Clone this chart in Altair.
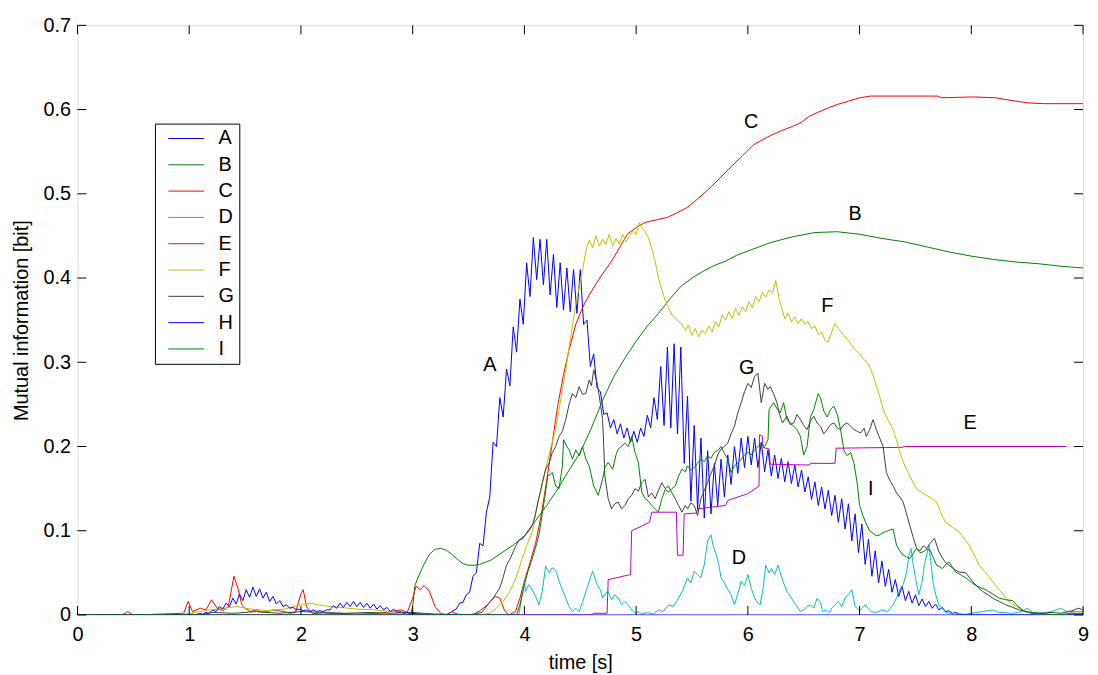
import altair as alt
import pandas as pd

SERIES = ["A", "B", "C", "D", "E", "F", "G", "H", "I"]
COLORS = ["#0000ff", "#008000", "#ff0000", "#00bfbf", "#bf00bf",
          "#bfbf00", "#404040", "#0000ff", "#008000"]
PAD = "\u2002\u2002"  # trailing blank room inside the legend box

X_TICKS = [0, 1, 2, 3, 4, 5, 6, 7, 8, 9]
Y_TICKS = [0, 0.1, 0.2, 0.3, 0.4, 0.5, 0.6, 0.7]

# A: sampled every 0.03 s from 3.30 s
A_T0, A_DT = 3.30, 0.03
A_V = [0.000, 0.002, 0.005, 0.007, 0.014, 0.015, 0.024, 0.027, 0.046, 0.050,
       0.085, 0.082, 0.122, 0.140, 0.205, 0.200, 0.258, 0.235, 0.292, 0.272,
       0.342, 0.312, 0.375, 0.345, 0.418, 0.378, 0.448, 0.398, 0.446, 0.392,
       0.446, 0.380, 0.428, 0.365, 0.418, 0.362, 0.412, 0.360, 0.410, 0.358,
       0.410, 0.345, 0.350, 0.295, 0.310, 0.270, 0.265, 0.238, 0.240, 0.222,
       0.232, 0.215, 0.227, 0.210, 0.222, 0.205, 0.218, 0.205, 0.222, 0.212,
       0.237, 0.222, 0.258, 0.232, 0.295, 0.225, 0.318, 0.222, 0.322, 0.215,
       0.318, 0.180, 0.260, 0.135, 0.225, 0.125, 0.210, 0.115, 0.195, 0.120,
       0.180, 0.130, 0.185, 0.140, 0.190, 0.155, 0.200, 0.168, 0.210, 0.175,
       0.212, 0.178, 0.210, 0.175, 0.205, 0.170, 0.196, 0.165, 0.190, 0.162,
       0.186, 0.158, 0.182, 0.156, 0.178, 0.152, 0.172, 0.146, 0.164, 0.137,
       0.158, 0.130, 0.152, 0.126, 0.148, 0.118, 0.142, 0.110, 0.138, 0.102,
       0.132, 0.088, 0.120, 0.074, 0.108, 0.060, 0.090, 0.046, 0.076, 0.038,
       0.064, 0.034, 0.054, 0.027, 0.042, 0.022, 0.034, 0.017, 0.028, 0.014,
       0.024, 0.011, 0.019, 0.010, 0.016, 0.008, 0.013, 0.006, 0.009, 0.004,
       0.005, 0.002, 0.003, 0.001, 0.001, 0.000, 0.000]

# H: sampled every 0.03 s from 1.00 s
H_T0, H_DT = 1.00, 0.03
H_V = [0.000, 0.001, 0.000, 0.002, 0.001, 0.003, 0.002, 0.006, 0.004, 0.010,
       0.007, 0.014, 0.010, 0.020, 0.013, 0.025, 0.017, 0.030, 0.021, 0.033,
       0.022, 0.031, 0.020, 0.027, 0.016, 0.022, 0.013, 0.017, 0.010, 0.012,
       0.008, 0.009, 0.006, 0.007, 0.005, 0.006, 0.004, 0.006, 0.004, 0.005,
       0.004, 0.006, 0.006, 0.011, 0.008, 0.014, 0.009, 0.015, 0.010, 0.016,
       0.010, 0.015, 0.009, 0.014, 0.008, 0.013, 0.007, 0.011, 0.006, 0.009,
       0.004, 0.007, 0.003, 0.004, 0.002, 0.003, 0.001, 0.002, 0.001, 0.001,
       0.000]

B_PTS = [(0, 0), (2.98, 0), (3.0, 0.01), (3.02, 0.035), (3.05, 0.045), (3.1, 0.06),
         (3.15, 0.072), (3.2, 0.078), (3.25, 0.079), (3.3, 0.077), (3.35, 0.072),
         (3.4, 0.066), (3.45, 0.061), (3.5, 0.059), (3.55, 0.059), (3.6, 0.06),
         (3.7, 0.065), (3.8, 0.074), (3.9, 0.083), (4.0, 0.094), (4.1, 0.112),
         (4.2, 0.13), (4.3, 0.15), (4.4, 0.172), (4.5, 0.193), (4.6, 0.222),
         (4.7, 0.255), (4.8, 0.283), (4.9, 0.305), (5.0, 0.325), (5.1, 0.343),
         (5.2, 0.358), (5.3, 0.375), (5.4, 0.39), (5.5, 0.4), (5.6, 0.408),
         (5.7, 0.415), (5.8, 0.42), (5.9, 0.427), (6.0, 0.432), (6.2, 0.442),
         (6.4, 0.449), (6.6, 0.454), (6.8, 0.455), (7.0, 0.452), (7.2, 0.447),
         (7.4, 0.443), (7.6, 0.437), (7.8, 0.431), (8.0, 0.426), (8.2, 0.422),
         (8.4, 0.419), (8.6, 0.417), (8.8, 0.414), (9.0, 0.412)]

C_PTS = [(0, 0), (0.4, 0), (0.45, 0.004), (0.5, 0), (0.95, 0.002), (0.99, 0.016),
         (1.03, 0.004), (1.1, 0.008), (1.15, 0.006), (1.2, 0.018), (1.25, 0.008),
         (1.3, 0.005), (1.35, 0.01), (1.4, 0.046), (1.44, 0.03), (1.47, 0.012),
         (1.5, 0.008), (1.55, 0.004), (1.6, 0.006), (1.65, 0.003), (1.7, 0.004),
         (1.75, 0.006), (1.8, 0.005), (1.85, 0.004), (1.9, 0.002), (1.95, 0.003),
         (2.0, 0.025), (2.02, 0.03), (2.05, 0.01), (2.1, 0.002), (2.2, 0.001),
         (2.3, 0.002), (2.5, 0.001), (2.7, 0.002), (2.8, 0.004), (2.9, 0.006),
         (2.95, 0.003), (3.0, 0.02), (3.03, 0.034), (3.07, 0.03), (3.1, 0.035),
         (3.15, 0.028), (3.2, 0.01), (3.25, 0.002), (3.3, 0.0), (3.35, 0.004),
         (3.4, 0.001), (3.5, 0), (3.62, 0.003), (3.68, 0.014), (3.74, 0.022),
         (3.78, 0.02), (3.82, 0.006), (3.86, 0), (3.92, 0.004), (3.96, 0.02),
         (4.0, 0.04), (4.05, 0.062), (4.1, 0.085), (4.15, 0.118), (4.2, 0.16),
         (4.25, 0.205), (4.3, 0.25), (4.35, 0.285), (4.4, 0.315), (4.46, 0.345),
         (4.52, 0.365), (4.58, 0.38), (4.64, 0.393), (4.7, 0.405), (4.78, 0.42),
         (4.86, 0.438), (4.92, 0.452), (5.0, 0.46), (5.08, 0.466), (5.18, 0.469),
         (5.28, 0.472), (5.36, 0.477), (5.46, 0.484), (5.56, 0.495), (5.67, 0.508),
         (5.76, 0.52), (5.85, 0.532), (5.95, 0.545), (6.05, 0.558), (6.1, 0.562),
         (6.2, 0.569), (6.3, 0.575), (6.4, 0.58), (6.48, 0.585), (6.55, 0.592),
         (6.63, 0.597), (6.72, 0.602), (6.8, 0.606), (6.9, 0.61), (7.0, 0.614),
         (7.1, 0.616), (7.7, 0.616), (7.73, 0.614), (8.02, 0.615), (8.22, 0.614),
         (8.3, 0.612), (8.4, 0.61), (8.5, 0.608), (8.65, 0.607), (9.0, 0.607)]

D_PTS = [(0, 0), (3.95, 0), (4.0, 0.04), (4.01, 0.028), (4.04, 0.036), (4.07, 0.03),
         (4.1, 0.022), (4.13, 0.012), (4.16, 0.028), (4.19, 0.058), (4.22, 0.05),
         (4.25, 0.056), (4.28, 0.053), (4.31, 0.04), (4.34, 0.03), (4.37, 0.02),
         (4.4, 0.01), (4.43, 0.004), (4.46, 0.008), (4.49, 0.004), (4.52, 0.015),
         (4.55, 0.028), (4.58, 0.04), (4.61, 0.052), (4.63, 0.045), (4.65, 0.036),
         (4.68, 0.03), (4.7, 0.02), (4.72, 0.025), (4.75, 0.028), (4.78, 0.018),
         (4.81, 0.024), (4.84, 0.02), (4.87, 0.012), (4.9, 0.016), (4.93, 0.012),
         (4.96, 0.006), (4.99, 0.002), (5.02, 0.004), (5.05, 0.001), (5.1, 0.003),
         (5.15, 0.001), (5.2, 0.006), (5.24, 0.004), (5.29, 0.012), (5.33, 0.01),
         (5.38, 0.02), (5.42, 0.03), (5.46, 0.044), (5.49, 0.038), (5.52, 0.052),
         (5.55, 0.048), (5.58, 0.044), (5.61, 0.06), (5.64, 0.088), (5.67, 0.095),
         (5.69, 0.082), (5.72, 0.07), (5.74, 0.06), (5.76, 0.044), (5.79, 0.038),
         (5.82, 0.03), (5.85, 0.024), (5.88, 0.012), (5.91, 0.025), (5.94, 0.04),
         (5.97, 0.035), (6.0, 0.048), (6.03, 0.032), (6.06, 0.02), (6.09, 0.014),
         (6.11, 0.012), (6.14, 0.035), (6.16, 0.059), (6.19, 0.05), (6.21, 0.055),
         (6.24, 0.048), (6.27, 0.059), (6.29, 0.05), (6.32, 0.038), (6.35, 0.028),
         (6.38, 0.022), (6.41, 0.016), (6.44, 0.01), (6.47, 0.004), (6.5, 0.006),
         (6.53, 0.01), (6.56, 0.012), (6.59, 0.008), (6.62, 0.02), (6.65, 0.015),
         (6.67, 0.004), (6.7, 0.006), (6.73, 0.003), (6.75, 0.008), (6.78, 0.012),
         (6.81, 0.016), (6.84, 0.01), (6.87, 0.02), (6.9, 0.024), (6.93, 0.03),
         (6.96, 0.01), (7.0, 0.005), (7.05, 0.012), (7.1, 0.004), (7.15, 0.003),
         (7.2, 0.006), (7.25, 0.004), (7.3, 0.012), (7.33, 0.02), (7.36, 0.03),
         (7.39, 0.036), (7.42, 0.05), (7.44, 0.07), (7.46, 0.079), (7.48, 0.06),
         (7.5, 0.044), (7.53, 0.024), (7.56, 0.04), (7.58, 0.06), (7.6, 0.071),
         (7.62, 0.083), (7.64, 0.06), (7.66, 0.036), (7.69, 0.02), (7.71, 0.012),
         (7.74, 0.008), (7.77, 0.003), (7.85, 0.001), (7.9, 0), (8.0, 0.002),
         (8.1, 0.004), (8.19, 0.006), (8.25, 0.003), (8.37, 0.002), (8.45, 0.004),
         (8.5, 0.008), (8.55, 0.003), (8.65, 0.002), (8.74, 0.005), (8.8, 0.008),
         (8.85, 0.004), (9.0, 0.004)]

E_PTS = [(0, 0), (4.6, 0), (4.62, 0.002), (4.74, 0.002), (4.75, 0.042), (4.95, 0.048),
         (4.96, 0.10), (5.12, 0.11), (5.14, 0.122), (5.36, 0.122), (5.37, 0.071),
         (5.42, 0.071), (5.43, 0.12), (5.54, 0.121), (5.55, 0.126), (5.8, 0.13),
         (5.82, 0.136), (6.0, 0.144), (6.1, 0.153), (6.105, 0.214), (6.13, 0.212),
         (6.135, 0.199), (6.19, 0.197), (6.2, 0.179), (6.55, 0.178), (6.56, 0.18),
         (6.78, 0.18), (6.79, 0.198), (7.38, 0.199), (7.4, 0.2), (8.85, 0.2)]

F_PTS = [(0, 0), (0.9, 0), (1.0, 0.002), (1.1, 0.004), (1.2, 0.006), (1.3, 0.008),
         (1.43, 0.01), (1.55, 0.007), (1.7, 0.005), (1.85, 0.007), (2.0, 0.012),
         (2.08, 0.014), (2.2, 0.011), (2.35, 0.009), (2.5, 0.007), (2.67, 0.006),
         (2.8, 0.004), (3.0, 0.002), (3.2, 0.001), (3.6, 0), (3.69, 0.002),
         (3.75, 0.008), (3.81, 0.016), (3.86, 0.026), (3.9, 0.036), (3.94, 0.05),
         (3.98, 0.067), (4.02, 0.082), (4.07, 0.099), (4.1, 0.12), (4.13, 0.138),
         (4.16, 0.155), (4.19, 0.173), (4.22, 0.19), (4.25, 0.205), (4.28, 0.222),
         (4.31, 0.244), (4.34, 0.268), (4.37, 0.291), (4.4, 0.318), (4.43, 0.343),
         (4.46, 0.369), (4.49, 0.39), (4.52, 0.409), (4.55, 0.432), (4.58, 0.445),
         (4.61, 0.436), (4.64, 0.45), (4.67, 0.438), (4.7, 0.446), (4.73, 0.44),
         (4.76, 0.452), (4.79, 0.438), (4.82, 0.447), (4.85, 0.44), (4.88, 0.452),
         (4.91, 0.443), (4.94, 0.45), (4.97, 0.456), (5.0, 0.452), (5.03, 0.466),
         (5.05, 0.46), (5.08, 0.455), (5.11, 0.448), (5.14, 0.435), (5.17, 0.42),
         (5.2, 0.4), (5.23, 0.386), (5.26, 0.373), (5.29, 0.365), (5.32, 0.356),
         (5.35, 0.353), (5.38, 0.348), (5.41, 0.345), (5.44, 0.338), (5.47, 0.344),
         (5.5, 0.332), (5.53, 0.34), (5.56, 0.33), (5.59, 0.338), (5.62, 0.334),
         (5.65, 0.343), (5.68, 0.336), (5.71, 0.348), (5.74, 0.342), (5.77, 0.356),
         (5.8, 0.35), (5.83, 0.36), (5.86, 0.352), (5.89, 0.364), (5.92, 0.356),
         (5.95, 0.366), (5.98, 0.36), (6.01, 0.372), (6.04, 0.365), (6.07, 0.378),
         (6.1, 0.372), (6.13, 0.383), (6.16, 0.377), (6.19, 0.386), (6.22, 0.382),
         (6.25, 0.397), (6.28, 0.375), (6.3, 0.366), (6.33, 0.352), (6.36, 0.358),
         (6.39, 0.348), (6.42, 0.354), (6.45, 0.346), (6.48, 0.352), (6.51, 0.345),
         (6.54, 0.348), (6.57, 0.34), (6.6, 0.343), (6.63, 0.333), (6.66, 0.336),
         (6.69, 0.326), (6.72, 0.324), (6.75, 0.336), (6.78, 0.346), (6.81, 0.34),
         (6.84, 0.335), (6.87, 0.33), (6.9, 0.326), (6.93, 0.32), (6.96, 0.315),
         (7.0, 0.31), (7.04, 0.303), (7.08, 0.298), (7.12, 0.285), (7.15, 0.272),
         (7.18, 0.259), (7.21, 0.245), (7.24, 0.235), (7.27, 0.228), (7.3, 0.22),
         (7.33, 0.208), (7.36, 0.193), (7.39, 0.182), (7.42, 0.173), (7.46, 0.162),
         (7.51, 0.15), (7.56, 0.145), (7.6, 0.142), (7.65, 0.138), (7.69, 0.134),
         (7.73, 0.12), (7.77, 0.11), (7.83, 0.104), (7.89, 0.099), (7.94, 0.09),
         (7.98, 0.083), (8.03, 0.07), (8.07, 0.059), (8.13, 0.05), (8.19, 0.04),
         (8.25, 0.03), (8.31, 0.02), (8.37, 0.013), (8.43, 0.008), (8.49, 0.004),
         (8.54, 0.002), (8.66, 0), (8.85, 0.001), (8.9, 0.003), (8.95, 0.001),
         (9.0, 0.002)]

G_PTS = [(0, 0), (1.1, 0), (1.2, 0.003), (1.4, 0.002), (1.6, 0.004), (1.8, 0.002),
         (2.0, 0.004), (2.2, 0.003), (2.4, 0.002), (2.6, 0.003), (2.8, 0.002),
         (3.0, 0.003), (3.2, 0.001), (3.54, 0), (3.6, 0.005), (3.63, 0.008),
         (3.67, 0.012), (3.72, 0.02), (3.75, 0.026), (3.78, 0.032), (3.81, 0.045),
         (3.84, 0.059), (3.87, 0.066), (3.9, 0.075), (3.93, 0.084), (3.95, 0.089),
         (3.98, 0.09), (4.01, 0.095), (4.04, 0.1), (4.07, 0.106), (4.1, 0.12),
         (4.12, 0.134), (4.14, 0.145), (4.16, 0.157), (4.19, 0.173), (4.22, 0.18),
         (4.25, 0.193), (4.28, 0.2), (4.31, 0.212), (4.34, 0.218), (4.37, 0.232),
         (4.4, 0.25), (4.43, 0.263), (4.46, 0.258), (4.49, 0.271), (4.52, 0.262),
         (4.55, 0.263), (4.58, 0.279), (4.6, 0.272), (4.62, 0.291), (4.65, 0.276),
         (4.67, 0.26), (4.7, 0.232), (4.71, 0.2), (4.72, 0.165), (4.75, 0.138),
         (4.78, 0.126), (4.81, 0.132), (4.84, 0.134), (4.87, 0.126), (4.9, 0.13),
         (4.93, 0.138), (4.96, 0.142), (4.99, 0.15), (5.02, 0.147), (5.05, 0.157),
         (5.08, 0.161), (5.11, 0.14), (5.14, 0.145), (5.17, 0.138), (5.2, 0.148),
         (5.23, 0.157), (5.26, 0.15), (5.29, 0.153), (5.32, 0.145), (5.35, 0.138),
         (5.38, 0.13), (5.41, 0.122), (5.44, 0.13), (5.46, 0.126), (5.49, 0.133),
         (5.52, 0.13), (5.55, 0.118), (5.58, 0.138), (5.61, 0.148), (5.64, 0.157),
         (5.67, 0.168), (5.7, 0.177), (5.73, 0.19), (5.76, 0.197), (5.79, 0.2),
         (5.82, 0.204), (5.85, 0.215), (5.88, 0.224), (5.91, 0.24), (5.94, 0.252),
         (5.97, 0.265), (6.0, 0.275), (6.03, 0.27), (6.06, 0.283), (6.09, 0.287),
         (6.12, 0.252), (6.15, 0.275), (6.18, 0.268), (6.2, 0.271), (6.23, 0.263),
         (6.26, 0.252), (6.28, 0.24), (6.31, 0.228), (6.35, 0.236), (6.38, 0.226),
         (6.41, 0.228), (6.44, 0.238), (6.47, 0.232), (6.5, 0.225), (6.53, 0.22),
         (6.56, 0.23), (6.59, 0.236), (6.62, 0.228), (6.65, 0.224), (6.68, 0.215),
         (6.71, 0.22), (6.74, 0.226), (6.77, 0.228), (6.8, 0.222), (6.83, 0.22),
         (6.86, 0.226), (6.89, 0.228), (6.92, 0.224), (6.95, 0.22), (6.98, 0.218),
         (7.01, 0.216), (7.04, 0.222), (7.06, 0.212), (7.09, 0.22), (7.12, 0.232),
         (7.15, 0.22), (7.18, 0.21), (7.21, 0.2), (7.24, 0.169), (7.27, 0.16),
         (7.3, 0.153), (7.33, 0.145), (7.36, 0.14), (7.39, 0.134), (7.42, 0.12),
         (7.45, 0.106), (7.48, 0.092), (7.51, 0.079), (7.54, 0.076), (7.57, 0.082),
         (7.6, 0.079), (7.63, 0.085), (7.67, 0.091), (7.71, 0.075), (7.74, 0.068),
         (7.77, 0.062), (7.8, 0.059), (7.84, 0.055), (7.89, 0.051), (7.95, 0.05),
         (8.01, 0.04), (8.05, 0.034), (8.1, 0.028), (8.15, 0.024), (8.19, 0.02),
         (8.25, 0.016), (8.31, 0.012), (8.37, 0.009), (8.43, 0.006), (8.49, 0.004),
         (8.54, 0.002), (8.6, 0.002), (8.72, 0.003), (8.8, 0.002), (8.9, 0.005),
         (8.96, 0.008), (9.0, 0.006)]

I_PTS = [(0, 0), (3.93, 0), (3.96, 0.012), (4.0, 0.036), (4.03, 0.051), (4.07, 0.067),
         (4.1, 0.08), (4.13, 0.095), (4.16, 0.12), (4.18, 0.138), (4.21, 0.165),
         (4.25, 0.169), (4.28, 0.153), (4.31, 0.15), (4.34, 0.177), (4.35, 0.208),
         (4.38, 0.2), (4.4, 0.196), (4.43, 0.185), (4.46, 0.196), (4.49, 0.189),
         (4.52, 0.2), (4.55, 0.185), (4.58, 0.177), (4.6, 0.165), (4.62, 0.153),
         (4.64, 0.148), (4.66, 0.142), (4.7, 0.161), (4.72, 0.175), (4.75, 0.181),
         (4.79, 0.173), (4.82, 0.19), (4.84, 0.197), (4.87, 0.2), (4.9, 0.204),
         (4.93, 0.2), (4.96, 0.212), (4.99, 0.193), (5.02, 0.181), (5.05, 0.146),
         (5.08, 0.138), (5.11, 0.135), (5.14, 0.13), (5.17, 0.126), (5.2, 0.122),
         (5.23, 0.138), (5.26, 0.149), (5.29, 0.146), (5.32, 0.15), (5.35, 0.153),
         (5.38, 0.165), (5.41, 0.173), (5.44, 0.17), (5.46, 0.177), (5.49, 0.172),
         (5.52, 0.175), (5.55, 0.18), (5.58, 0.185), (5.61, 0.182), (5.64, 0.189),
         (5.67, 0.186), (5.7, 0.193), (5.73, 0.195), (5.76, 0.2), (5.79, 0.192),
         (5.82, 0.185), (5.85, 0.169), (5.88, 0.177), (5.91, 0.18), (5.94, 0.185),
         (5.97, 0.19), (6.0, 0.193), (6.03, 0.19), (6.06, 0.196), (6.09, 0.2),
         (6.12, 0.204), (6.15, 0.2), (6.18, 0.208), (6.19, 0.244), (6.21, 0.248),
         (6.23, 0.252), (6.26, 0.245), (6.29, 0.24), (6.32, 0.252), (6.35, 0.232),
         (6.38, 0.228), (6.41, 0.224), (6.44, 0.22), (6.47, 0.212), (6.5, 0.19),
         (6.53, 0.2), (6.56, 0.235), (6.59, 0.244), (6.63, 0.263), (6.65, 0.258),
         (6.68, 0.242), (6.71, 0.235), (6.74, 0.244), (6.77, 0.248), (6.8, 0.238),
         (6.83, 0.22), (6.86, 0.195), (6.89, 0.189), (6.92, 0.193), (6.95, 0.18),
         (6.98, 0.155), (7.0, 0.13), (7.03, 0.118), (7.06, 0.108), (7.09, 0.1),
         (7.12, 0.097), (7.15, 0.094), (7.18, 0.095), (7.21, 0.098), (7.24, 0.099),
         (7.27, 0.101), (7.3, 0.102), (7.33, 0.083), (7.36, 0.076), (7.39, 0.071),
         (7.42, 0.069), (7.45, 0.067), (7.48, 0.073), (7.51, 0.079), (7.54, 0.074),
         (7.57, 0.075), (7.6, 0.078), (7.63, 0.077), (7.66, 0.068), (7.69, 0.059),
         (7.72, 0.057), (7.74, 0.055), (7.77, 0.06), (7.8, 0.063), (7.83, 0.057),
         (7.86, 0.051), (7.9, 0.048), (7.95, 0.044), (8.0, 0.039), (8.04, 0.035),
         (8.09, 0.032), (8.13, 0.03), (8.19, 0.025), (8.25, 0.02), (8.31, 0.018),
         (8.37, 0.017), (8.42, 0.01), (8.48, 0.004), (8.6, 0.002), (8.78, 0),
         (8.9, 0.002), (9.0, 0.002)]

ANN_LAB = ["A", "B", "C", "D", "E", "F", "G", "I"]
ANN_T = [3.69, 6.96, 6.03, 5.92, 7.99, 6.71, 5.99, 7.10]
ANN_V = [0.297, 0.476, 0.585, 0.067, 0.228, 0.367, 0.293, 0.150]

FONT = "Liberation Sans"


def grid(t0, dt, vals):
    return [(round(t0 + i * dt, 3), v) for i, v in enumerate(vals)]


pts = {
    "A": [(0, 0), (3.27, 0)] + grid(A_T0, A_DT, A_V) + [(9, 0)],
    "B": B_PTS,
    "C": C_PTS,
    "D": D_PTS,
    "E": E_PTS,
    "F": F_PTS,
    "G": G_PTS,
    "H": [(0, 0), (0.97, 0)] + grid(H_T0, H_DT, H_V) + [(9, 0)],
    "I": I_PTS,
}

rows = []
for s in SERIES:
    for k, (t, v) in enumerate(pts[s]):
        rows.append({"s": s + PAD, "t": t, "v": v, "k": k})
df = pd.DataFrame(rows)

xscale = alt.Scale(domain=[0, 9], nice=False)
yscale = alt.Scale(domain=[0, 0.7], nice=False)

x_axis = alt.Axis(values=X_TICKS, format="d", title="time [s]", domain=False,
                  ticks=False, grid=False, labelFontSize=20, labelFont=FONT,
                  labelColor="black", labelPadding=10, labelFlush=False,
                  labelOverlap=False, titleFontSize=20, titleFont=FONT,
                  titleFontWeight="normal", titleColor="black",
                  titleX=506.5, titleY=54, titleBaseline="alphabetic")
y_axis = alt.Axis(values=Y_TICKS,
                  labelExpr="datum.value == 0 ? '0' : format(datum.value, '.1f')",
                  title="Mutual information [bit]", domain=False, ticks=False,
                  grid=False, labelFontSize=20, labelFont=FONT, labelColor="black",
                  labelPadding=7, labelFlush=False, labelOverlap=False,
                  titleFontSize=20, titleFont=FONT, titleFontWeight="normal",
                  titleColor="black", titleX=-50, titleY=297, titleAngle=270,
                  titleBaseline="alphabetic")

legend = alt.Legend(orient="none", legendX=78, legendY=99, title=None,
                    symbolType="stroke", symbolSize=1296, symbolStrokeWidth=1,
                    labelFontSize=20, labelFont=FONT, labelColor="black",
                    strokeColor="black", fillColor="white", padding=5,
                    clipHeight=20, rowPadding=6.5, symbolOffset=8, labelOffset=14)

lines = alt.Chart(df).mark_line(strokeWidth=1, clip=True).encode(
    x=alt.X("t:Q", scale=xscale, axis=x_axis),
    y=alt.Y("v:Q", scale=yscale, axis=y_axis),
    color=alt.Color("s:N", scale=alt.Scale(domain=[s + PAD for s in SERIES], range=COLORS),
                    legend=legend),
    order=alt.Order("k:Q"),
)

xt = pd.DataFrame({"t": X_TICKS})
yt = pd.DataFrame({"v": Y_TICKS})
tick_b = alt.Chart(xt).mark_rule(color="black", strokeWidth=1).encode(
    x="t:Q", y=alt.value(594), y2=alt.value(585))
tick_t = alt.Chart(xt).mark_rule(color="black", strokeWidth=1).encode(
    x="t:Q", y=alt.value(0), y2=alt.value(9))
tick_l = alt.Chart(yt).mark_rule(color="black", strokeWidth=1).encode(
    y="v:Q", x=alt.value(0), x2=alt.value(9))
tick_r = alt.Chart(yt).mark_rule(color="black", strokeWidth=1).encode(
    y="v:Q", x=alt.value(1013), x2=alt.value(1004))

ann = alt.Chart(pd.DataFrame({"lab": ANN_LAB, "t": ANN_T, "v": ANN_V})).mark_text(
    fontSize=20, font=FONT, color="black", align="center", baseline="middle"
).encode(x="t:Q", y="v:Q", text="lab:N")

chart = alt.layer(lines, tick_b, tick_t, tick_l, tick_r, ann).properties(
    width=1013, height=594,
    autosize=alt.AutoSizeParams(type="none"),
    padding={"left": 70, "top": 15, "right": 7, "bottom": 57},
).configure_view(stroke="black", strokeWidth=1).configure(background="white")

chart.save("out.html", embed_options={"renderer": "svg", "actions": False})
